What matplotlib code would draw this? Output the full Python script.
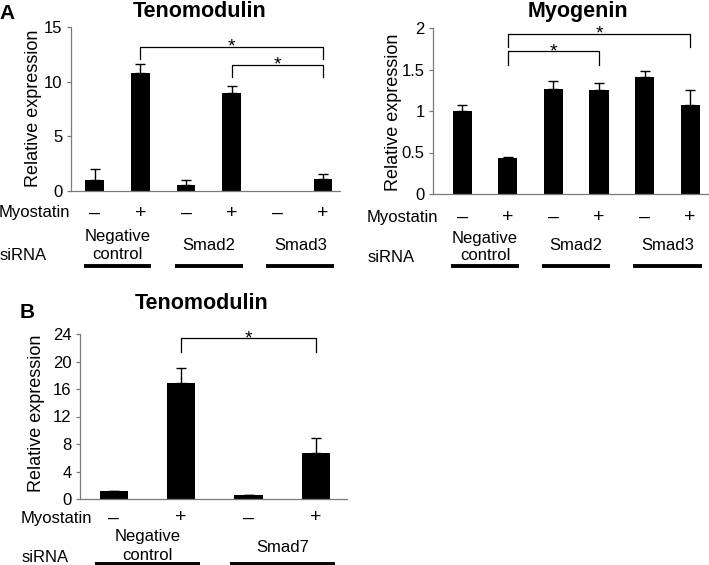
import matplotlib
matplotlib.use("Agg")
import matplotlib.pyplot as plt
import matplotlib.transforms as mtransforms
import numpy as np

W, H = 709, 565

# ---------------------------------------------------------------------------
# Data
# ---------------------------------------------------------------------------
myostatin_a = ["\u2013", "+", "\u2013", "+", "\u2013", "+"]
myostatin_b = ["\u2013", "+", "\u2013", "+"]

sirna_a = ["Negative\ncontrol", "Smad2", "Smad3"]
sirna_b = ["Negative\ncontrol", "Smad7"]

teno_a_mean = [1.05, 10.75, 0.58, 9.0, 0.0, 1.07]
teno_a_err = [1.0, 0.9, 0.46, 0.57, 0.0, 0.48]
teno_a_sig = [(1, 5, 13.2, 12.1), (3, 5, 11.55, 10.4)]   # (from, to, top, leg end)

myog_mean = [1.0, 0.43, 1.27, 1.25, 1.41, 1.07]
myog_err = [0.07, 0.01, 0.09, 0.09, 0.07, 0.18]
myog_sig = [(1, 5, 1.93, 1.77), (1, 3, 1.72, 1.55)]

teno_b_mean = [1.1, 16.9, 0.53, 6.7]
teno_b_err = [0.05, 2.1, 0.07, 2.2]
teno_b_sig = [(1, 3, 23.4, 21.4)]

plt.rcParams["font.family"] = ["Liberation Sans", "DejaVu Sans"]

fig = plt.figure(figsize=(W / 100, H / 100), dpi=100)


def fx(x):
    return x / W


def fy(y):
    return 1 - y / H


def make_axes(left, right, top, bottom):
    return fig.add_axes([fx(left), fy(bottom), (right - left) / W, (bottom - top) / H])


def bar_panel(ax, means, errs, sig, ylim, yticks, xlim, width):
    x = np.arange(len(means))
    ax.bar(x, means, width=width, color="black", zorder=2)
    m = np.array(errs) > 0
    ax.errorbar(x[m], np.array(means)[m],
                yerr=[np.zeros(m.sum()), np.array(errs)[m]],
                fmt="none", ecolor="black", elinewidth=1.0, capsize=3.5,
                capthick=1.0, zorder=3)
    for a, b, top, leg in sig:
        ax.plot([a, a, b, b], [leg, top, top, leg], color="black", lw=0.9,
                clip_on=False)
        # asterisk glyph sits high in the em box; pull the baseline below the line
        ax.annotate("*", ((a + b) / 2, top), xytext=(0, -3.5),
                    textcoords="offset points", ha="center", va="baseline",
                    fontsize=14)
    ax.set_xlim(*xlim)
    ax.set_ylim(*ylim)
    ax.set_yticks(yticks)
    ax.set_yticklabels([f"{t:g}" for t in yticks])
    ax.set_xticks([])
    for s in ["top", "right"]:
        ax.spines[s].set_visible(False)
    for s in ["left", "bottom"]:
        ax.spines[s].set_color("#7a7a7a")
        ax.spines[s].set_linewidth(0.9)
    ax.tick_params(axis="y", length=3, width=0.9, color="#7a7a7a",
                   labelsize=12, pad=3)


def under_labels(ax, signs, groups, y_sign, y_group, y_line, half, nc_lines):
    tr = mtransforms.blended_transform_factory(ax.transData, fig.transFigure)
    for i, s in enumerate(signs):
        ax.text(i, fy(y_sign), s, transform=tr, ha="center", va="center",
                fontsize=14)
    for g, name in enumerate(groups):
        c = 2 * g + 0.5
        if "\n" in name:
            l1, l2 = name.split("\n")
            ax.text(c, fy(nc_lines[0]), l1, transform=tr, ha="center",
                    va="center", fontsize=12)
            ax.text(c, fy(nc_lines[1]), l2, transform=tr, ha="center",
                    va="center", fontsize=12)
        else:
            ax.text(c, fy(y_group), name, transform=tr, ha="center",
                    va="center", fontsize=12)
        ax.plot([c - half, c + half], [fy(y_line), fy(y_line)],
                transform=tr, color="black", lw=2.8, clip_on=False,
                solid_capstyle="butt")


# ---------------------------------------------------------------------------
# Panel A: Tenomodulin
# ---------------------------------------------------------------------------
ax1 = make_axes(71, 340, 27, 191)
bar_panel(ax1, teno_a_mean, teno_a_err, teno_a_sig, (0, 15), [0, 5, 10, 15],
          (-0.52, 5.37), 0.41)
under_labels(ax1, myostatin_a, sirna_a, 213, 245, 266, 0.74, (237, 254))
fig.text(fx(70), fy(213), "Myostatin", ha="right", va="center", fontsize=12)
fig.text(fx(0), fy(256), "siRNA", ha="left", va="center", fontsize=12)
fig.text(fx(34), fy(108), "Relative expression", rotation=90, ha="center",
         va="center", fontsize=13)
fig.text(fx(200), fy(1), "Tenomodulin", ha="center", va="top",
         fontsize=15.5, fontweight="bold")
fig.text(fx(7), fy(4), "A", ha="center", va="top", fontsize=15,
         fontweight="bold")

# ---------------------------------------------------------------------------
# Panel A: Myogenin
# ---------------------------------------------------------------------------
ax2 = make_axes(433, 708, 28, 194)
bar_panel(ax2, myog_mean, myog_err, myog_sig, (0, 2), [0, 0.5, 1, 1.5, 2],
          (-0.64, 5.39), 0.42)
under_labels(ax2, myostatin_a, sirna_a, 217, 245, 266, 0.75, (238, 256))
fig.text(fx(438), fy(217), "Myostatin", ha="right", va="center", fontsize=12)
fig.text(fx(368), fy(258), "siRNA", ha="left", va="center", fontsize=12)
fig.text(fx(394), fy(112), "Relative expression", rotation=90, ha="center",
         va="center", fontsize=13)
fig.text(fx(578), fy(1), "Myogenin", ha="center", va="top",
         fontsize=15.5, fontweight="bold")

# ---------------------------------------------------------------------------
# Panel B: Tenomodulin (Smad7)
# ---------------------------------------------------------------------------
ax3 = make_axes(80, 347, 334, 499)
bar_panel(ax3, teno_b_mean, teno_b_err, teno_b_sig, (0, 24),
          [0, 4, 8, 12, 16, 20, 24], (-0.5, 3.46), 0.42)
under_labels(ax3, myostatin_b, sirna_b, 518, 547, 564, 0.78, (537, 556))
fig.text(fx(92), fy(518), "Myostatin", ha="right", va="center", fontsize=12)
fig.text(fx(22), fy(558), "siRNA", ha="left", va="center", fontsize=12)
fig.text(fx(37), fy(413), "Relative expression", rotation=90, ha="center",
         va="center", fontsize=13)
fig.text(fx(202), fy(293), "Tenomodulin", ha="center", va="top",
         fontsize=15.5, fontweight="bold")
fig.text(fx(27), fy(303), "B", ha="center", va="top", fontsize=15,
         fontweight="bold")

fig.savefig("out.png", dpi=100)
